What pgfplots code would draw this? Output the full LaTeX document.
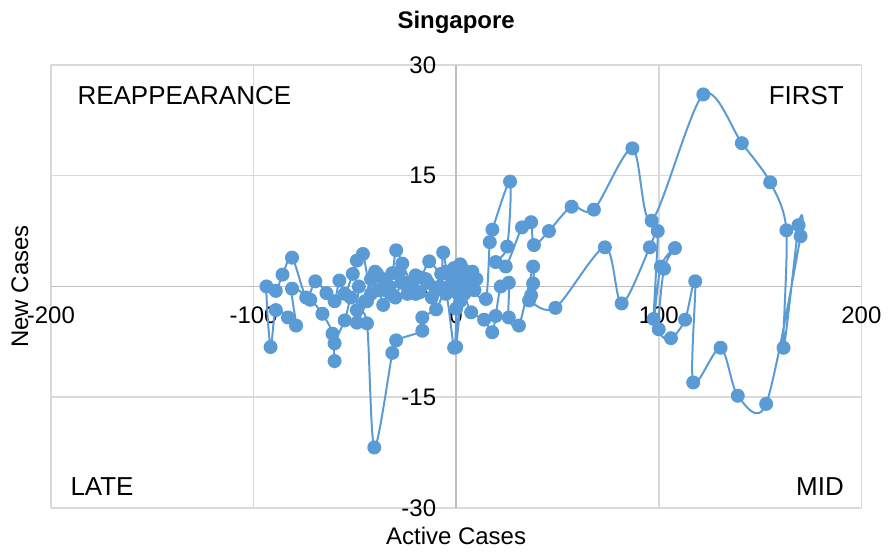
\documentclass[border=0pt]{standalone}
\usepackage{pgfplots}
\pgfplotsset{compat=1.18}
\usepackage{fontspec}
\setmainfont{Liberation Sans}
\definecolor{sblue}{HTML}{5B9BD5}
\definecolor{gridc}{HTML}{D9D9D9}
\definecolor{axc}{HTML}{BFBFBF}
\begin{document}
\begin{tikzpicture}
\begin{axis}[
 scale only axis, width=406pt, height=222pt,
 xmin=-200,xmax=200,ymin=-30,ymax=30,
 axis lines=middle,
 axis line style={draw=axc, line width=0.75pt, -},
 xtick={-200,-100,0,100,200}, ytick={-30,-15,0,15,30},
 hide obscured x ticks=false, hide obscured y ticks=false,
 grid=major, grid style={draw=gridc, line width=0.75pt},
 major tick length=0pt,
 tick label style={font=\fontsize{12}{14}\selectfont},
 /pgf/number format/assume math mode=true,
 xticklabel style={anchor=north, yshift=-6.5pt},
 yticklabel style={anchor=east, xshift=-6.5pt},
 clip=false,
]
\addplot[sblue, line width=1pt, smooth, tension=0.5, mark=*, mark size=3pt, mark options={fill=sblue, draw=sblue, solid}] coordinates {
(0,0)(2,1.5)(-1,2.5)(3,0.5)(1,-1)(4,2)(-2,1)(2,3)(5,0)(0,1)(3,2.5)(6,1.5)(8,2)(10,1)(9,-0.5)
(14.7,-1.7)(16.6,6.0)(17.9,7.7)(26.6,14.2)(25.2,5.4)(19.5,3.3)(24.5,2.7)(32.5,8.0)(37,8.7)(38.4,5.6)
(45.8,7.5)(57,10.8)(68,10.4)(87,18.7)(96.5,8.9)(122,26)(141,19.4)(155,14.1)(163,7.6)(161.6,-8.3)
(169,8.3)(170,6.8)(153,-15.9)(139,-14.8)(130.5,-8.3)(117,-13)(118,0.7)(113,-4.5)(106,-7)(100,-5.8)
(102.6,2.4)(108,5.2)(101,2.7)(97.5,-4.4)(99.5,7.5)(95.6,5.3)(81.7,-2.3)(73.4,5.3)(49,-2.9)(36,-1.9)
(37,-1.2)(38,0.4)(38,2.7)(31,-5.3)(26,-4.2)(26,0.5)(22,0)(19.5,-4)(17.8,-6.2)(13.8,-4.5)(7.4,-3.5)
(4,-1)(1,0.5)(-2,-0.5)(3,1.2)(0,-8.2)(2,-2)(5,1)(1,2)(-3,0)(-6.4,4.6)(-7.4,1.7)(-13.3,3.4)(-17.2,1.2)
(-21.7,0.4)(-26.6,3.1)(-29.6,4.9)(-31.5,1.8)(-35,-0.5)(-39,1.7)(-42,-1)(-46,4.4)(-49,3.5)(-51,1.7)
(-55,-1)(-57.6,0.8)(-60,-2)(-64,-0.9)(-69.5,0.7)(-74,-1.5)(-81,3.9)(-85.7,1.6)(-89,-0.6)(-93.6,0)
(-91.6,-8.2)(-89,-3.2)(-83,-4.2)(-79,-5.3)(-81,-0.3)(-72,-1.8)(-66,-3.7)(-61,-6.4)(-60,-10.1)(-60,-7.7)
(-55,-4.6)(-52,-1.5)(-48,0)(-49,-3.2)(-44,-5)(-40.4,-21.8)(-31.5,-9)(-29.6,-7.3)(-16.7,-6)(-16.7,-4.2)
(-9.9,-3.1)(-5,-1)(-1,-8.3)(0,-3)(-2,0.5)(-8,0)(-12,-1.5)(-14,0.5)(-18,-0.8)(-20,1.5)(-24,-1)(-27,0.5)
(-30,-1.5)(-33,0)(-36,-2.5)(-38,-0.5)(-42,1)(-45,-2)(-49,-4.9)(-44,-2)(-40,2)(-36,1)(-32,-1)(-28,2)
(-24,0.5)(-20,-1)(-15,1)(-10,-0.5)(-5,2)(0,1.5)(2,0.5)
};
\node[anchor=west, inner sep=0pt, font=\fontsize{13}{15}\selectfont] at (axis cs:-187,25.9) {REAPPEARANCE};
\node[anchor=east, inner sep=0pt, font=\fontsize{13}{15}\selectfont] at (axis cs:191.5,25.9) {FIRST};
\node[anchor=west, inner sep=0pt, font=\fontsize{13}{15}\selectfont] at (axis cs:-190.5,-27.1) {LATE};
\node[anchor=east, inner sep=0pt, font=\fontsize{13}{15}\selectfont] at (axis cs:191.5,-27.1) {MID};
\node[font=\bfseries\fontsize{12}{14}\selectfont] at ([yshift=21.5pt]rel axis cs:0.5,1) {Singapore};
\node[font=\fontsize{12}{14}\selectfont] at ([yshift=-14pt]rel axis cs:0.5,0) {Active Cases};
\node[font=\fontsize{12}{14}\selectfont, rotate=90] at ([xshift=-15.5pt]rel axis cs:0,0.5) {New Cases};
\coordinate (SW) at (rel axis cs:0,0);
\coordinate (NE) at (rel axis cs:1,1);
\end{axis}
\path ([shift={(-25.5pt,-23.5pt)}]SW) rectangle ([shift={(12.5pt,32.5pt)}]NE);
\end{tikzpicture}
\end{document}
